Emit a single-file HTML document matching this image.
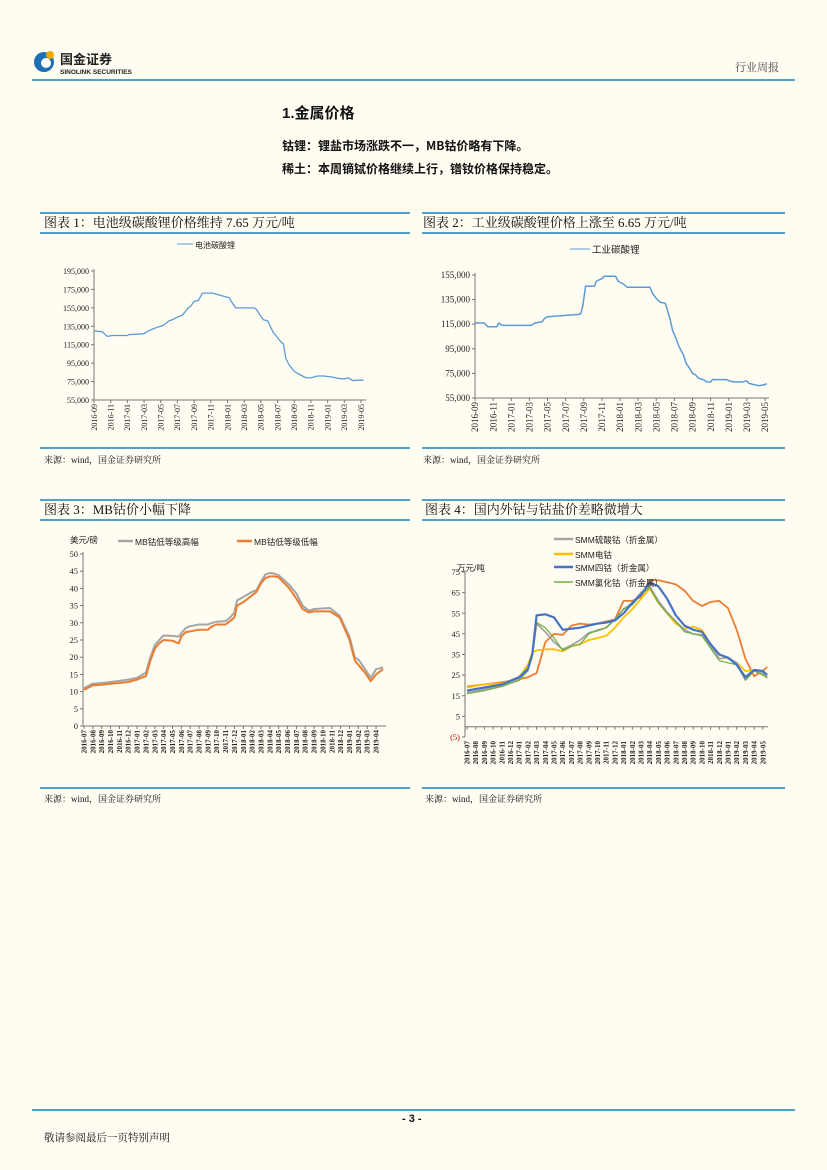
<!DOCTYPE html>
<html><head><meta charset="utf-8">
<style>
body{margin:0;background:#fffcf2;}
#page{position:relative;width:827px;height:1170px;background:#fffcf2;overflow:hidden;font-family:"Liberation Serif","Noto Serif CJK SC",serif;color:#111;}
.abs{position:absolute;white-space:nowrap;}
.hl{position:absolute;height:2px;background:#4fa3c8;}
.ttl{font-size:13px;line-height:16px;}
.src{font-size:9px;}
svg text{font-family:"Liberation Serif","Noto Serif CJK SC",serif;}
</style></head>
<body>
<div id="page">
  <div class="abs" style="left:32px;top:46px;width:120px;height:32px;">
    <svg width="120" height="32"><circle cx="12" cy="16" r="10" fill="#1f6fb5"/><circle cx="14" cy="17" r="5" fill="#fff"/><circle cx="18" cy="9" r="4" fill="#f2a900"/>
    <text x="28" y="18" font-size="13" font-weight="bold" fill="#222" style="font-family:'Noto Sans CJK SC',sans-serif">国金证券</text>
    <text x="28" y="28" font-size="6.5" font-weight="bold" fill="#222" style="font-family:'Liberation Sans',sans-serif">SINOLINK SECURITIES</text></svg>
  </div>
  <div class="abs" style="left:735px;top:59px;font-size:11px;color:#444;">行业周报</div>
  <div class="hl" style="left:32px;top:79px;width:763px;"></div>
  <div class="abs" style="left:282px;top:102px;font-size:15px;font-weight:bold;font-family:'Liberation Sans','Noto Sans CJK SC',sans-serif;">1.金属价格</div>
  <div class="abs" style="left:282px;top:137px;font-size:12px;font-weight:bold;font-family:'Noto Sans CJK SC',sans-serif;">钴锂：锂盐市场涨跌不一，MB钴价略有下降。</div>
  <div class="abs" style="left:282px;top:160px;font-size:12px;font-weight:bold;font-family:'Noto Sans CJK SC',sans-serif;">稀土：本周镝铽价格继续上行，镨钕价格保持稳定。</div>

  <div class="hl" style="left:40px;top:212px;width:370px;"></div>
  <div class="abs ttl" style="left:44px;top:215px;">图表 1：电池级碳酸锂价格维持 7.65 万元/吨</div>
  <div class="hl" style="left:40px;top:232px;width:370px;"></div>
  <div class="hl" style="left:40px;top:447px;width:370px;"></div>
  <div class="abs src" style="left:44px;top:453px;">来源：wind，国金证券研究所</div>

  <div class="hl" style="left:422px;top:212px;width:363px;"></div>
  <div class="abs ttl" style="left:423px;top:215px;">图表 2：工业级碳酸锂价格上涨至 6.65 万元/吨</div>
  <div class="hl" style="left:422px;top:232px;width:363px;"></div>
  <div class="hl" style="left:422px;top:447px;width:363px;"></div>
  <div class="abs src" style="left:423px;top:453px;">来源：wind，国金证券研究所</div>

  <div class="hl" style="left:40px;top:499px;width:370px;"></div>
  <div class="abs ttl" style="left:44px;top:502px;">图表 3：MB钴价小幅下降</div>
  <div class="hl" style="left:40px;top:519px;width:370px;"></div>
  <div class="hl" style="left:40px;top:787px;width:370px;"></div>
  <div class="abs src" style="left:44px;top:792px;">来源：wind，国金证券研究所</div>

  <div class="hl" style="left:422px;top:499px;width:363px;"></div>
  <div class="abs ttl" style="left:425px;top:502px;">图表 4：国内外钴与钴盐价差略微增大</div>
  <div class="hl" style="left:422px;top:519px;width:363px;"></div>
  <div class="hl" style="left:422px;top:787px;width:363px;"></div>
  <div class="abs src" style="left:425px;top:792px;">来源：wind，国金证券研究所</div>

  <svg id="charts" width="827" height="1170" style="position:absolute;left:0;top:0;"></svg>

  <div class="hl" style="left:32px;top:1109px;width:763px;"></div>
  <div class="abs" style="left:402px;top:1113px;font-size:11px;font-weight:bold;font-family:'Liberation Sans',sans-serif;">- 3 -</div>
  <div class="abs" style="left:44px;top:1130px;font-size:10.5px;">敬请参阅最后一页特别声明</div>
</div>
<script>
// ---- Chart 1 data (month index: 0 = 2016-09) ----
const c1Months = [0,1,1.6,2.2,4,4.2,6,6.3,7,7.6,8.3,9,9.4,10,10.6,11.3,11.6,12,12.5,13,13.5,14.2,16.2,16.6,17,17.4,19.2,19.5,19.9,20.3,20.8,21.5,21.8,22.3,22.7,23,23.4,24,24.4,25.2,25.5,26,26.8,27,27.5,28.5,29,29.6,30,30.5,31,31.6,32.3];
const c1Values = [130000,129000,124000,125000,125000,126000,127000,129000,132000,134000,136000,141000,142000,145000,147000,155000,157000,162000,163000,171000,171000,171000,166000,160000,155000,155000,155000,153000,147000,142000,141000,128000,125000,119000,116000,100000,93000,86000,84000,80000,79000,79000,81000,81000,81000,80000,79000,78000,78000,79000,76000,76500,76500];
const c1Ticks = [55000,75000,95000,115000,135000,155000,175000,195000];
const c1Labels = ["2016-09","2016-11","2017-01","2017-03","2017-05","2017-07","2017-09","2017-11","2018-01","2018-03","2018-05","2018-07","2018-09","2018-11","2019-01","2019-03","2019-05"];
// ---- Chart 2 data ----
const c2Months = [0,1,1.4,2.4,2.6,3,6.2,6.6,7.4,7.7,8,11.5,11.7,11.9,12.2,13.2,13.4,14,14.3,15.5,15.8,16.3,16.8,19.3,19.6,20,20.4,21,21.5,21.8,22.2,22.5,23,23.3,23.7,24,24.3,24.7,25.2,25.6,26,26.2,27.8,28,28.6,29.5,30,30.2,30.7,31.3,31.7,32.2];
const c2Values = [116000,116000,113000,113000,116000,114000,114000,116000,117000,120000,121000,123000,124000,130000,146000,146000,150000,152000,154000,154000,150000,148000,145000,145000,140000,136000,133000,132000,120000,110000,103000,97000,90000,83000,79000,75000,74000,71000,70000,68000,68000,70000,70000,69000,68000,68000,69000,67000,66000,65000,65500,66500];
const c2Ticks = [55000,75000,95000,115000,135000,155000];
const c2Labels = c1Labels;
// ---- Chart 3 data (month index: 0 = 2016-07) ----
const c3Months = [0,1,2,3,4,5,6,7,7.5,8,8.5,9,10,10.7,11,11.5,12,13,14,14.5,15,16,16.5,17,17.3,18,19,19.5,20,20.5,21,21.5,22,23.2,24,24.7,25.4,26,27.8,28.9,30,30.6,31.1,31.9,32.4,33,33.8];
const c3High = [11,12.3,12.5,12.8,13.1,13.5,14,15.5,20,23.5,25,26.3,26.2,26,27,28.5,29,29.5,29.5,30,30.3,30.5,31.5,33,36.5,37.5,39,39.5,42,44,44.5,44.3,43.8,41,38.5,35,33.5,34,34.3,32,26,20,19,16,14,16.5,17];
const c3Low = [10.5,11.8,12,12.3,12.5,12.8,13.5,14.5,19,22.5,24,25,24.8,24,26,27.3,27.5,28,28,29,29.5,29.5,30.5,31.5,35,36,38,39,41.5,43,43.5,43.5,43.2,40,37,34,33,33.3,33.3,31.5,25,19,17.5,15,13,15,16.5];
const c3Ticks = [0,5,10,15,20,25,30,35,40,45,50];
const c3Labels = ["2016-07","2016-08","2016-09","2016-10","2016-11","2016-12","2017-01","2017-02","2017-03","2017-04","2017-05","2017-06","2017-07","2017-08","2017-09","2017-10","2017-11","2017-12","2018-01","2018-02","2018-03","2018-04","2018-05","2018-06","2018-07","2018-08","2018-09","2018-10","2018-11","2018-12","2019-01","2019-02","2019-03","2019-04"];
// ---- Chart 4 data (month index: 0 = 2016-07) ----
const c4Months = [0,2,4,6,7,7.5,8,9,10,11,12,13,14,15,16,17,18,19,20,21,22,23,24,25,26,27,28,29,30,31,32,33,34,34.5];
const c4Gray   = [16.5,18,20,23,28,35,50,46,41,37.5,39.5,42,45.5,46.5,48,52,57,60,65,68,61,55.5,51,47,45,44.5,39,33,33.5,31,23,27.5,26,23.5];
const c4Yellow = [19,20.5,21,24,30,36,37,37.5,37.5,36.5,39,40,42,43,44,48,53,57,62,67,60,55,50,47.5,48.5,47,40,35,33,31,27,27.5,27,24];
const c4Blue   = [17.5,19,20.5,24,28,35,54,54.5,53,47,47.5,48,49,50,50.5,51.5,55,60,64,70,68,62,54,49,47,46,40,35,33.5,30,24,27.5,27,25];
const c4Green  = [16,17.5,19.5,22.5,27,34,50.5,48,43,37,39,40,45,47,48,52,57,59,64,67.5,60,55,51,46,45,44,38,32,31,30,22.5,27,25,24];
const c4Orange = [19.5,20.5,21.5,23,24,25,26,41,45,44.5,49,50,49.5,50,51,52,61,61,63,71,71,70,69,66,61,58.5,60.5,61,57.5,47,33,24.5,27,29];
const c4Ticks = [-5,5,15,25,35,45,55,65,75];
const c4Labels = ["2016-07","2016-08","2016-09","2016-10","2016-11","2016-12","2017-01","2017-02","2017-03","2017-04","2017-05","2017-06","2017-07","2017-08","2017-09","2017-10","2017-11","2017-12","2018-01","2018-02","2018-03","2018-04","2018-05","2018-06","2018-07","2018-08","2018-09","2018-10","2018-11","2018-12","2019-01","2019-02","2019-03","2019-04","2019-05"];

const NS = "http://www.w3.org/2000/svg";
const root = document.getElementById('charts');
function mk(tag, attrs, parent){const e=document.createElementNS(NS,tag);for(const k in attrs)e.setAttribute(k,attrs[k]);(parent||root).appendChild(e);return e;}
function fmt(v){if(v<0)return "("+(-v)+")";return v.toLocaleString('en-US');}

function axes(g, cfg){
  const ax = mk('line',{x1:cfg.x0,y1:cfg.yTop-2,x2:cfg.x0,y2:cfg.yBase,stroke:'#777','stroke-width':1},g);
  
  
  const xb = mk('line',{x1:cfg.x0,y1:cfg.xAxisY,x2:cfg.x1,y2:cfg.xAxisY,stroke:'#777','stroke-width':1},g);
  
  
  cfg.ticks.forEach(t=>{
    const y=cfg.sy(t);
    const tk=mk('line',{x1:cfg.x0-3,y1:y,x2:cfg.x0,y2:y,stroke:'#777'},g);
    
    
    const tx=mk('text',{x:cfg.x0-5,y:y+3,'font-size':cfg.yfs,'text-anchor':'end',fill:(t<0?'#c00':'#222')},g);
    tx.textContent=fmt(t);
    
    
  });
  cfg.labels.forEach((l,i)=>{
    const x=cfg.sx(i*cfg.labelStep);
    const tk=mk('line',{x1:x,y1:cfg.xAxisY,x2:x,y2:cfg.xAxisY+3,stroke:'#777'},g);
    
    
    const tx=mk('text',{x:0,y:0,'font-size':cfg.xfs,'text-anchor':'end',fill:'#222','font-weight':cfg.xbold?'bold':'normal',transform:`translate(${x+cfg.xfs*0.35},${cfg.yBase+4}) rotate(-90)`},g);
    tx.textContent=l;
    
    
  });
}
function series(g, months, vals, sx, sy, color, w, name){
  const pts=months.map((m,i)=>sx(m).toFixed(1)+','+sy(vals[i]).toFixed(1)).join(' ');
  const p=mk('polyline',{points:pts,fill:'none',stroke:color,'stroke-width':w,'stroke-linejoin':'round'},g);
  
  
}
function legend(g,x1,x2,y,color,w,label,fs,name){
  const l=mk('line',{x1:x1,y1:y,x2:x2,y2:y,stroke:color,'stroke-width':w},g);
  
  
  const t=mk('text',{x:x2+2,y:y+4,'font-size':fs,fill:'#222',style:"font-family:'Liberation Sans','Noto Sans CJK SC',sans-serif"},g);
  t.textContent=label;
  
  
}

{
  const g=mk('g',{});
  
  
  const sx=m=>94+m*(267/32), sy=v=>400-(v-55000)*(129/140000);
  axes(g,{x0:94,x1:366,yTop:271,yBase:400,xAxisY:400,sx,sy,ticks:c1Ticks,labels:c1Labels,labelStep:2,yfs:8,xfs:8});
  series(g,c1Months,c1Values,sx,sy,'#5b9bd5',1.3,'line-battery-grade');
  legend(g,177,193,244,'#5b9bd5',1,'电池碳酸锂',8,'legend-battery-grade');
}
{
  const g=mk('g',{});
  
  
  const sx=m=>475+m*(290/32), sy=v=>398-(v-55000)*(123/100000);
  axes(g,{x0:475,x1:769,yTop:275,yBase:398,xAxisY:398,sx,sy,ticks:c2Ticks,labels:c2Labels,labelStep:2,yfs:9,xfs:9});
  series(g,c2Months,c2Values,sx,sy,'#5b9bd5',1.5,'line-industrial-grade');
  legend(g,570,590,249,'#5b9bd5',1,'工业碳酸锂',9.5,'legend-industrial-grade');
}
{
  const g=mk('g',{});
  
  
  const sx=m=>84+m*8.85, sy=v=>726-v*(172/50);
  axes(g,{x0:83,x1:386,yTop:554,yBase:726,xAxisY:726,sx,sy,ticks:c3Ticks,labels:c3Labels,labelStep:1,yfs:8.5,xfs:7,xbold:true});
  series(g,c3Months,c3High,sx,sy,'#a5a5a5',2,'line-mb-high');
  series(g,c3Months,c3Low,sx,sy,'#ed7d31',2,'line-mb-low');
  const u=mk('text',{x:70,y:543,'font-size':8.5,fill:'#222',style:"font-family:'Liberation Sans','Noto Sans CJK SC',sans-serif"},g);
  u.textContent='美元/磅';
  
  
  legend(g,118,133,541,'#a5a5a5',2.5,'MB钴低等级高幅',8.5,'legend-mb-high');
  legend(g,237,252,541,'#ed7d31',2.5,'MB钴低等级低幅',8.5,'legend-mb-low');
}
{
  const g=mk('g',{});
  
  
  const sx=m=>467+m*8.7, sy=v=>737-(v+5)*(165/80);
  axes(g,{x0:465,x1:768,yTop:572,yBase:737,xAxisY:sy(0),sx,sy,ticks:c4Ticks,labels:c4Labels,labelStep:1,yfs:8.5,xfs:7,xbold:true});
  series(g,c4Months,c4Orange,sx,sy,'#ed7d31',1.8,'line-mb-cobalt-rmb');
  series(g,c4Months,c4Yellow,sx,sy,'#ffc000',1.8,'line-smm-cobalt');
  series(g,c4Months,c4Gray,sx,sy,'#a5a5a5',1.8,'line-smm-cobalt-sulfate');
  series(g,c4Months,c4Green,sx,sy,'#70ad47',1.2,'line-smm-cobalt-chloride');
  series(g,c4Months,c4Blue,sx,sy,'#4472c4',2.2,'line-smm-cobalt-oxide');
  const u=mk('text',{x:457,y:571,'font-size':8.5,fill:'#222',style:"font-family:'Liberation Sans','Noto Sans CJK SC',sans-serif"},g);
  u.textContent='万元/吨';
  
  
  legend(g,554,573,539,'#a5a5a5',2.5,'SMM硫酸钴（折金属）',8.5,'legend-smm-cobalt-sulfate');
  legend(g,554,573,554,'#ffc000',2.5,'SMM电钴',8.5,'legend-smm-cobalt');
  legend(g,554,573,567,'#4472c4',2.5,'SMM四钴（折金属）',8.5,'legend-smm-cobalt-oxide');
  legend(g,554,573,582,'#70ad47',1.5,'SMM氯化钴（折金属）',8.5,'legend-smm-cobalt-chloride');
}
</script>
</body></html>
